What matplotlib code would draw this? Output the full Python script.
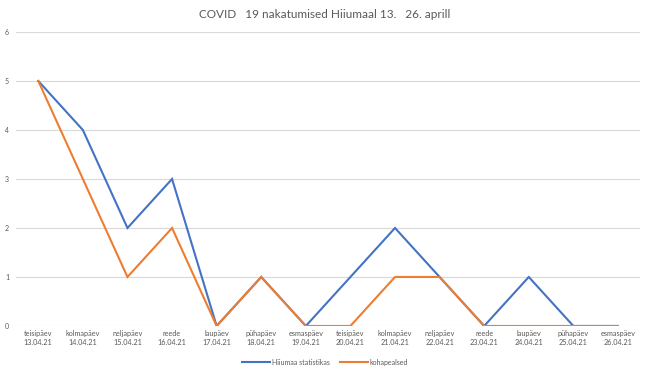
import matplotlib
matplotlib.use("Agg")
import matplotlib.pyplot as plt

days = ["teisipäev", "kolmapäev", "neljapäev", "reede", "laupäev", "pühapäev", "esmaspäev",
        "teisipäev", "kolmapäev", "neljapäev", "reede", "laupäev", "pühapäev", "esmaspäev"]
dates = ["13.04.21", "14.04.21", "15.04.21", "16.04.21", "17.04.21", "18.04.21", "19.04.21",
         "20.04.21", "21.04.21", "22.04.21", "23.04.21", "24.04.21", "25.04.21", "26.04.21"]
hiiumaa_stat = [5, 4, 2, 3, 0, 1, 0, 1, 2, 1, 0, 1, 0, 0]
kohapealsed = [5, 3, 1, 2, 0, 1, 0, 0, 1, 1, 0, 0, 0, 0]
yticks = [0, 1, 2, 3, 4, 5, 6]

plt.rcParams['font.family'] = ['Lato', 'DejaVu Sans']

fig = plt.figure(figsize=(6.5, 3.7), dpi=100)
ax = fig.add_axes([0.0246, 0.119, 0.9604, 0.7945])

x = list(range(len(days)))
ax.plot(x, hiiumaa_stat, color="#4472C4", lw=1.5, label="Hiiumaa statistikas", solid_joinstyle="miter")
ax.plot(x, kohapealsed, color="#ED7D31", lw=1.5, label="kohapealsed", solid_joinstyle="miter")

ax.set_xlim(-0.5, len(days) - 0.5)
ax.set_ylim(0, 6)
ax.set_yticks(yticks)
ax.set_yticklabels([str(v) for v in yticks], fontsize=5, color="#595959")
ax.set_xticks(x)
ax.set_xticklabels([f"{d}\n{t}" for d, t in zip(days, dates)], fontsize=5.2, color="#595959", linespacing=1.3)
ax.tick_params(length=0, pad=3)
ax.tick_params(axis='y', pad=5)
ax.grid(axis='y', color="#D9D9D9", lw=0.8)
ax.set_axisbelow(True)
for s in ax.spines.values():
    s.set_visible(False)

fig.suptitle("COVID   19 nakatumised Hiiumaal 13.   26. aprill", y=0.975, fontsize=8.5, color="#595959")

fig.legend(loc="lower center", bbox_to_anchor=(0.5, -0.005), ncol=2, frameon=False, fontsize=5,
           handlelength=4, columnspacing=1.5, handletextpad=0.3, labelcolor="#595959")

fig.savefig("out.png", dpi=100)
